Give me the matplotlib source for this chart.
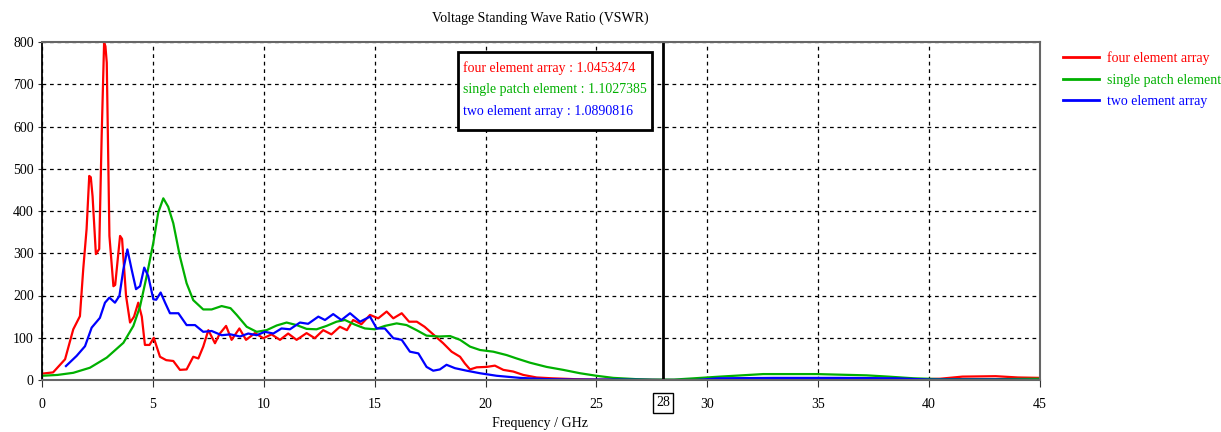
import matplotlib
matplotlib.use("Agg")
import matplotlib.pyplot as plt
import matplotlib.transforms as mtransforms

plt.rcParams['font.family'] = ['Liberation Serif', 'DejaVu Serif']
plt.rcParams['font.size'] = 10

# four element array
freq_four = [0, 0.5, 1.04, 1.41, 1.71, 1.86, 2.01, 2.13, 2.2, 2.28, 2.43, 2.58, 2.69, 2.80, 2.86,
             2.92, 3.04, 3.22, 3.3, 3.52, 3.61, 3.79, 3.97, 4.15, 4.34, 4.5, 4.64, 4.85, 5.04, 5.32,
             5.6, 5.92, 6.22, 6.52, 6.82, 7.05, 7.27, 7.5, 7.8, 8.02, 8.3, 8.55, 8.9, 9.2, 9.6, 9.98,
             10.35, 10.73, 11.1, 11.48, 11.93, 12.3, 12.68, 13.05, 13.43, 13.75, 14.03, 14.4, 14.79,
             15.16, 15.54, 15.84, 16.22, 16.55, 16.9, 17.25, 17.64, 18.09, 18.47, 18.85, 19.07, 19.3,
             19.6, 20.05, 20.42, 20.8, 21.25, 21.7, 22.3, 23.0, 24, 25, 26, 28, 29.5, 30.5, 31, 33,
             35, 37, 39, 40.5, 41.5, 43, 44, 45]
vswr_four = [15, 18, 49, 120, 151, 263, 357, 483, 480, 435, 298, 310, 577, 798, 790,
             751, 341, 222, 225, 341, 334, 199, 136, 150, 183, 150, 83, 83, 100, 55,
             47, 45, 24, 25, 55, 51, 79, 118, 87, 110, 128, 95, 122, 95, 111, 99,
             108, 95, 110, 95, 111, 99, 118, 108, 126, 118, 142, 132, 154,
             146, 162, 146, 158, 138, 138, 126, 108, 87, 67, 55, 39, 25,
             30, 31, 34, 24, 20, 12, 6, 4, 2, 1, 1, 0, 0, 0, 1, 2,
             2, 1, 1, 3, 8, 9, 6, 5]

# single patch element
freq_single = [0, 0.7, 1.41, 2.16, 2.92, 3.67, 4.12, 4.42, 4.72, 5.02, 5.24, 5.47, 5.69, 5.92, 6.22,
               6.52, 6.82, 7.27, 7.65, 8.1, 8.5, 8.78, 9.23, 9.68, 10.13, 10.58, 11.03, 11.48, 11.93,
               12.38, 12.83, 13.28, 13.66, 14.11, 14.56, 15.01, 15.46, 15.99, 16.44, 16.89, 17.34,
               17.9, 18.4, 18.85, 19.3, 19.75, 20.35, 20.95, 21.4, 22.0, 22.75, 23.5, 24.26, 25.0,
               25.76, 26.8, 27.5, 28.5, 29.4, 30.57, 31.55, 32.52, 34.93, 37.18, 38.16, 39.3, 40.5,
               43, 45]
vswr_single = [10, 12, 17, 29, 53, 88, 128, 174, 246, 325, 396, 430, 410, 371, 292,
               229, 189, 167, 167, 175, 170, 154, 126, 114, 118, 129, 136, 130, 121,
               120, 128, 138, 142, 131, 122, 120, 128, 134, 130, 118, 105,
               103, 104, 95, 79, 71, 67, 59, 51, 41, 31, 24, 16, 10,
               5, 2, 1, 1, 4, 8, 11, 14, 14, 11, 8, 4, 2,
               2, 3]

# two element array
freq_two = [1.08, 1.56, 1.94, 2.24, 2.61, 2.84, 3.04, 3.29, 3.49, 3.67, 3.85, 4.04, 4.24, 4.42,
            4.61, 4.79, 5.02, 5.15, 5.35, 5.55, 5.77, 6.15, 6.52, 6.9, 7.27, 7.65, 8.1, 8.5, 8.93,
            9.3, 9.68, 10.05, 10.43, 10.8, 11.18, 11.63, 12.0, 12.46, 12.76, 13.13, 13.5, 13.89,
            14.34, 14.79, 15.09, 15.46, 15.84, 16.22, 16.59, 16.97, 17.34, 17.64, 17.94, 18.24,
            18.62, 19.15, 19.75, 20.5, 21.55, 22.75, 24, 26, 28, 29.5, 30.5, 33, 36, 38.5, 40, 41,
            43, 45]
vswr_two = [33, 57, 80, 124, 147, 183, 195, 183, 199, 262, 309, 262, 215, 222,
            266, 246, 191, 190, 207, 183, 158, 158, 130, 130, 114, 116, 106, 108, 103,
            110, 106, 114, 110, 122, 120, 136, 133, 150, 142, 156, 142, 158,
            138, 150, 122, 122, 99, 95, 67, 63, 31, 22, 25, 36,
            28, 22, 16, 10, 5, 2, 1, 1, 0, 0, 4, 5, 5, 4, 1, 1,
            1, 0]

labels = ['four element array', 'single patch element', 'two element array']
colors = ['#ff0000', '#00b000', '#0000ff']
marker_values = ['1.0453474', '1.1027385', '1.0890816']
marker_freq = 28

fig = plt.figure(figsize=(12.21, 4.32), dpi=100)
ax = fig.add_axes([42 / 1221, 1 - 380 / 432, 998 / 1221, 338 / 432])

ax.plot(freq_four, vswr_four, color=colors[0], lw=1.6, label=labels[0])
ax.plot(freq_single, vswr_single, color=colors[1], lw=1.6, label=labels[1])
ax.plot(freq_two, vswr_two, color=colors[2], lw=1.6, label=labels[2])

ax.set_xlim(0, 45)
ax.set_ylim(0, 800)
ax.set_xticks(range(0, 46, 5))
ax.set_yticks(range(0, 801, 100))
ax.grid(True, color='black', linestyle=(0, (3, 3)), lw=0.9)
ax.tick_params(axis='x', direction='out', length=5, pad=8, colors='#333333', labelcolor='black')
ax.tick_params(axis='y', direction='out', length=3, pad=3, colors='#333333', labelcolor='black')

ax.spines['left'].set_color('black')
ax.spines['left'].set_linewidth(1.3)
for s in ['top', 'right', 'bottom']:
    ax.spines[s].set_color('#666666')
    ax.spines[s].set_linewidth(1.5)

# marker line
ax.axvline(marker_freq, color='black', lw=2)
trans = mtransforms.blended_transform_factory(ax.transData, ax.transAxes)
ax.text(marker_freq, -0.068, str(marker_freq), transform=trans, ha='center', va='center',
        bbox=dict(boxstyle='square,pad=0.25', fc='white', ec='black', lw=1))

# marker values box
box = plt.Rectangle((458 / 1221, 1 - 130 / 432), 194 / 1221, 78 / 432, transform=fig.transFigure,
                    fc='white', ec='black', lw=2, zorder=5)
fig.patches.append(box)
for i, (lab, val, c) in enumerate(zip(labels, marker_values, colors)):
    fig.text(463 / 1221, 1 - (68 + 22 * i) / 432, f'{lab} : {val}', color=c,
             ha='left', va='center', zorder=6)

# legend
leg = fig.legend(loc='upper left', bbox_to_anchor=(1050 / 1221, 1 - 39 / 432), frameon=False,
                 handlelength=2.6, handletextpad=0.6, labelspacing=0.6)
for t, c in zip(leg.get_texts(), colors):
    t.set_color(c)
for h in leg.get_lines():
    h.set_linewidth(2)

fig.text(540 / 1221, 1 - 18 / 432, 'Voltage Standing Wave Ratio (VSWR)', ha='center', va='center')
fig.text(540 / 1221, 1 - 423 / 432, 'Frequency / GHz', ha='center', va='center')

fig.savefig('out.png', dpi=100)
